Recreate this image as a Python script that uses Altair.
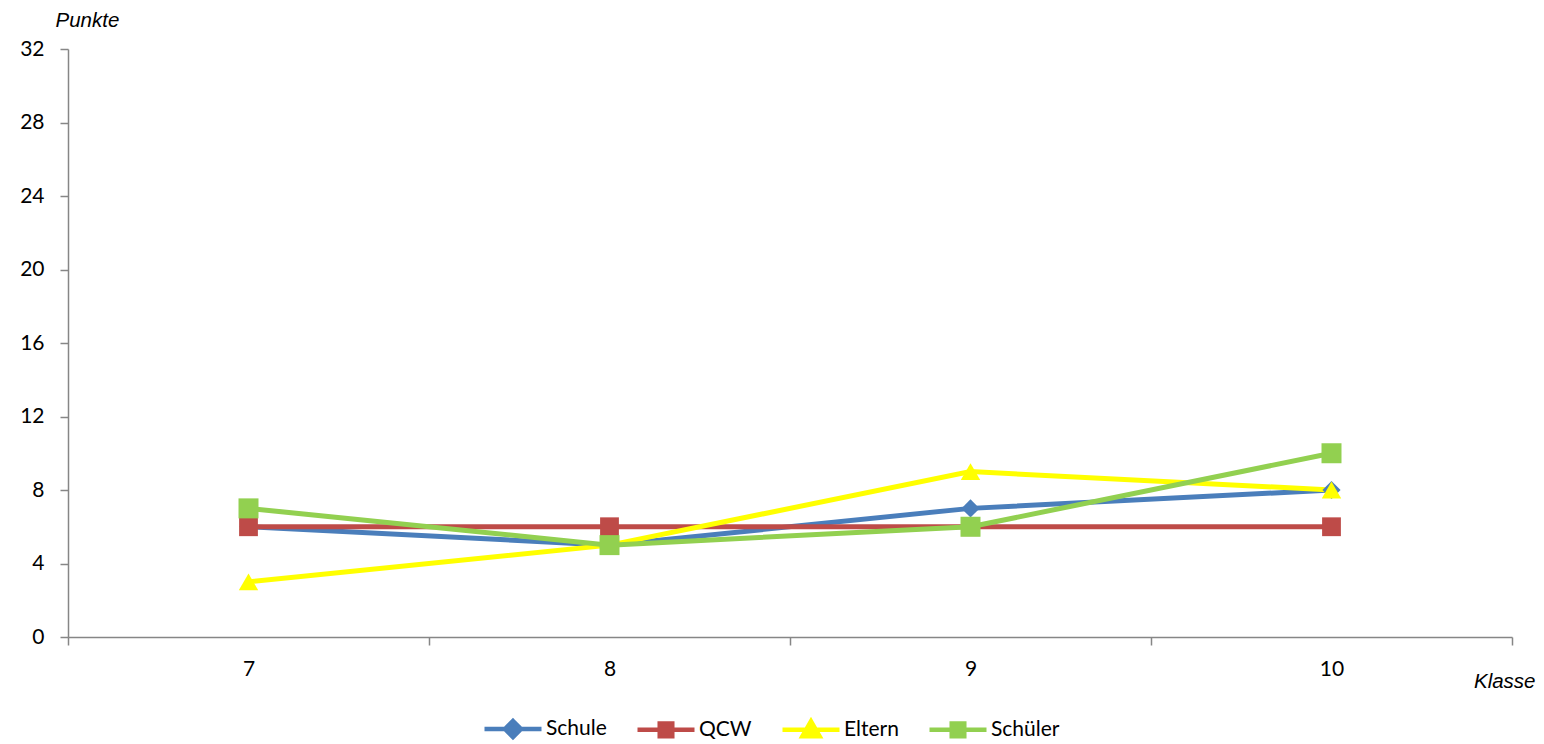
import altair as alt
import pandas as pd

klassen = ["7", "8", "9", "10"]
series_names = ["Schule", "QCW", "Eltern", "Schüler"]
schule = [6, 5, 7, 8]
qcw = [6, 6, 6, 6]
eltern = [3, 5, 9, 8]
schueler = [7, 5, 6, 10]
colors = ["#4A7EBB", "#BE4B48", "#FFFF00", "#92D050"]
marker_shapes = ["diamond", "square", "triangle-up", "square"]
legend_shapes = [
    "M-1,0H1M0,-0.28L0.28,0L0,0.28L-0.28,0Z",
    "M-1,0H1M-0.22,-0.22H0.22V0.22H-0.22Z",
    "M-1,0H1M0,-0.3L0.3,0.22L-0.3,0.22Z",
    "M-1,0H1M-0.22,-0.22H0.22V0.22H-0.22Z",
]

rows = []
for name, vals in zip(series_names, [schule, qcw, eltern, schueler]):
    for i, (k, v) in enumerate(zip(klassen, vals)):
        rows.append({"Klasse": k, "Punkte": v, "Serie": name, "idx": i})
df = pd.DataFrame(rows)

x_enc = alt.X(
    "Klasse:O",
    sort=klassen,
    bandPosition=0.5,
    scale=alt.Scale(type="band", paddingInner=0, paddingOuter=0, domain=klassen),
    axis=alt.Axis(
        title="Klasse",
        titleFont="Liberation Sans",
        titleFontStyle="italic",
        titleFontWeight="normal",
        titleFontSize=20.5,
        titleColor="#000000",
        titleAlign="right",
        titleAnchor=None,
        titleX=1467,
        titleY=50,
        titleBaseline="alphabetic",
        labelAngle=0,
        labelFont="Lato",
        labelFontSize=21,
        labelColor="#000000",
        labelPadding=13,
        tickBand="extent",
        tickSize=8,
        tickColor="#868686",
        tickWidth=1.5,
        domainColor="#868686",
        domainWidth=1.5,
        grid=False,
    ),
)
y_enc = alt.Y(
    "Punkte:Q",
    scale=alt.Scale(domain=[0, 32], nice=False, zero=True),
    axis=alt.Axis(
        title="Punkte",
        titleFont="Liberation Sans",
        titleFontStyle="italic",
        titleFontWeight="normal",
        titleFontSize=20.5,
        titleColor="#000000",
        titleAngle=0,
        titleAlign="left",
        titleAnchor=None,
        titleX=-13,
        titleY=-23,
        titleBaseline="alphabetic",
        values=[0, 4, 8, 12, 16, 20, 24, 28, 32],
        labelFont="Lato",
        labelFontSize=21,
        labelColor="#000000",
        labelPadding=16,
        tickSize=8,
        tickColor="#868686",
        tickWidth=1.5,
        domainColor="#868686",
        domainWidth=1.5,
        grid=False,
    ),
)

color_scale = alt.Scale(domain=series_names, range=colors)

lines = alt.Chart(df).mark_line(strokeWidth=5).encode(
    x=x_enc,
    y=y_enc,
    color=alt.Color("Serie:N", scale=color_scale, legend=None),
    detail="Serie:N",
    order=alt.Order("idx:Q"),
)

points = alt.Chart(df).mark_point(filled=True, opacity=1).encode(
    x=x_enc,
    y=y_enc,
    color=alt.Color("Serie:N", scale=color_scale, legend=None),
    shape=alt.Shape("Serie:N", scale=alt.Scale(domain=series_names, range=marker_shapes), legend=None),
    size=alt.Size("Serie:N", scale=alt.Scale(domain=series_names, range=[330, 400, 420, 400]), legend=None),
)

leg_props = dict(
    orient="none",
    legendX=414,
    legendY=649,
    direction="horizontal",
    title=None,
    symbolSize=3249,
    symbolStrokeWidth=4.5,
    labelFont="Lato",
    labelFontSize=21,
    labelColor="#000000",
    labelOffset=2,
    columnPadding=21,
)

legend_layer = alt.Chart(df).mark_point(filled=True, opacity=1, strokeWidth=4.5).encode(
    x=x_enc,
    y=y_enc,
    fill=alt.Fill("Serie:N", scale=alt.Scale(domain=series_names, range=colors), legend=alt.Legend(**leg_props)),
    stroke=alt.Stroke("Serie:N", scale=alt.Scale(domain=series_names, range=colors), legend=alt.Legend(**leg_props)),
    shape=alt.Shape("Serie:N", scale=alt.Scale(domain=series_names, range=legend_shapes), legend=alt.Legend(**leg_props)),
).transform_filter("false")

chart = (
    alt.layer(lines, points, legend_layer)
    .resolve_scale(color="independent", shape="independent", size="independent", fill="independent", stroke="independent")
    .properties(
        width=1444,
        height=588,
        autosize=alt.AutoSizeParams(type="none"),
        padding={"left": 60, "top": 41, "right": 24, "bottom": 107},
        background="#ffffff",
    )
    .configure_view(stroke=None)
)

chart.save("out.html", embed_options={"renderer": "svg", "actions": False})
